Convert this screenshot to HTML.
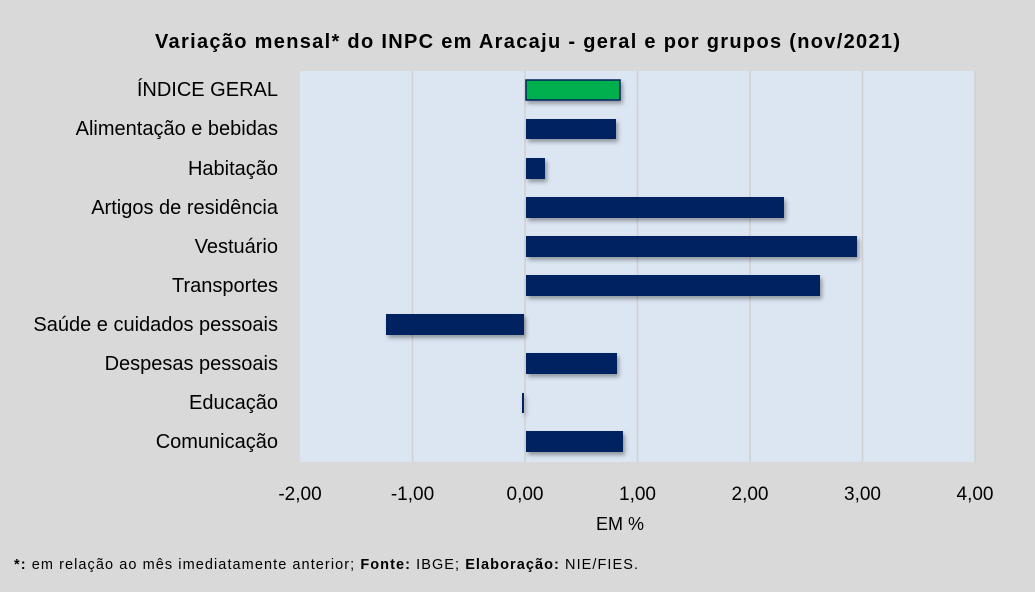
<!DOCTYPE html>
<html><head><meta charset="utf-8"><style>
body{margin:0;background:#d9d9d9;}
svg{display:block;font-family:"Liberation Sans",Calibri,sans-serif;}
</style></head><body>
<svg width="1035" height="592" viewBox="0 0 1035 592">
<defs><filter id="sh" x="-10%" y="-30%" width="130%" height="180%"><feDropShadow dx="2" dy="3" stdDeviation="2" flood-color="#000" flood-opacity="0.35"/></filter></defs>
<rect width="1035" height="592" fill="#d9d9d9"/>
<text x="155" y="48" font-size="20" font-weight="bold" fill="#000" textLength="745" lengthAdjust="spacing">Variação  mensal* do INPC em Aracaju  - geral e por grupos (nov/2021)</text>
<rect x="300" y="71" width="675" height="391" fill="#dce6f2"/>
<g stroke="#d0d0d0" stroke-width="1.5">
<line x1="412.5" y1="71" x2="412.5" y2="462"/><line x1="525" y1="71" x2="525" y2="462"/><line x1="637.5" y1="71" x2="637.5" y2="462"/><line x1="750" y1="71" x2="750" y2="462"/><line x1="862.5" y1="71" x2="862.5" y2="462"/><line x1="975" y1="71" x2="975" y2="462"/>
</g>
<g filter="url(#sh)">
<rect x="526" y="80" width="94" height="20" fill="#00b050" stroke="#002060" stroke-width="1.5"/>
<rect x="526" y="119" width="90" height="20" fill="#002060"/>
<rect x="526" y="158" width="19" height="21" fill="#002060"/>
<rect x="526" y="197" width="258" height="21" fill="#002060"/>
<rect x="526" y="236" width="331" height="21" fill="#002060"/>
<rect x="526" y="275" width="294" height="21" fill="#002060"/>
<rect x="386" y="314" width="138" height="21" fill="#002060"/>
<rect x="526" y="353" width="91" height="21" fill="#002060"/>
<rect x="522" y="393" width="2" height="20" fill="#002060"/>
<rect x="526" y="431" width="97" height="21" fill="#002060"/>
</g>
<g font-size="20" fill="#000" text-anchor="end">
<text x="278" y="96">ÍNDICE GERAL</text>
<text x="278" y="135">Alimentação e bebidas</text>
<text x="278" y="175">Habitação</text>
<text x="278" y="214">Artigos de residência</text>
<text x="278" y="253">Vestuário</text>
<text x="278" y="292">Transportes</text>
<text x="278" y="331">Saúde e cuidados pessoais</text>
<text x="278" y="370">Despesas pessoais</text>
<text x="278" y="409">Educação</text>
<text x="278" y="448">Comunicação</text>
</g>
<g font-size="19" fill="#000" text-anchor="middle">
<text x="300" y="500">-2,00</text><text x="412.5" y="500">-1,00</text><text x="525" y="500">0,00</text><text x="637.5" y="500">1,00</text><text x="750" y="500">2,00</text><text x="862.5" y="500">3,00</text><text x="975" y="500">4,00</text>
<text x="620" y="530" font-size="18">EM %</text>
</g>
<text x="14" y="569" font-size="14.5" fill="#000" textLength="624" lengthAdjust="spacing"><tspan font-weight="bold">*:</tspan> em relação ao mês imediatamente  anterior; <tspan font-weight="bold">Fonte:</tspan> IBGE; <tspan font-weight="bold">Elaboração:</tspan> NIE/FIES.</text>
</svg>
</body></html>
